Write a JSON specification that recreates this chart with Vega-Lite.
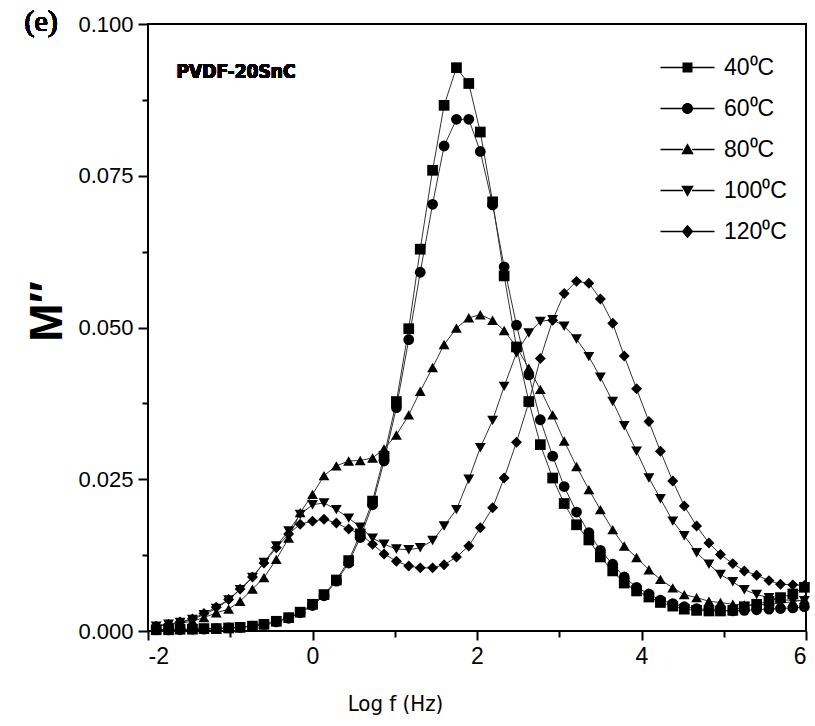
{
  "$schema": "https://vega.github.io/schema/vega-lite/v6.json",
  "width": 658,
  "height": 607,
  "autosize": "none",
  "padding": {"left": 148, "top": 24, "right": 9, "bottom": 95},
  "background": "white",
  "config": {"view": {"stroke": "black", "strokeWidth": 2}, "font": "Liberation Sans"},
  "datasets": {
    "d": [
      {"T":"40⁰C","f":-1.90,"m":0.0002},{"T":"40⁰C","f":-1.75,"m":0.0002},{"T":"40⁰C","f":-1.61,"m":0.0003},{"T":"40⁰C","f":-1.46,"m":0.0003},{"T":"40⁰C","f":-1.32,"m":0.0004},{"T":"40⁰C","f":-1.17,"m":0.0004},{"T":"40⁰C","f":-1.02,"m":0.0005},{"T":"40⁰C","f":-0.88,"m":0.0006},{"T":"40⁰C","f":-0.73,"m":0.0008},{"T":"40⁰C","f":-0.59,"m":0.0011},{"T":"40⁰C","f":-0.44,"m":0.0016},{"T":"40⁰C","f":-0.29,"m":0.0022},{"T":"40⁰C","f":-0.15,"m":0.0031},{"T":"40⁰C","f":0.00,"m":0.0044},{"T":"40⁰C","f":0.14,"m":0.0060},{"T":"40⁰C","f":0.29,"m":0.0084},{"T":"40⁰C","f":0.44,"m":0.0116},{"T":"40⁰C","f":0.58,"m":0.0160},{"T":"40⁰C","f":0.73,"m":0.0214},{"T":"40⁰C","f":0.87,"m":0.0288},{"T":"40⁰C","f":1.02,"m":0.0378},{"T":"40⁰C","f":1.17,"m":0.0498},{"T":"40⁰C","f":1.31,"m":0.0629},{"T":"40⁰C","f":1.46,"m":0.0759},{"T":"40⁰C","f":1.60,"m":0.0866},{"T":"40⁰C","f":1.75,"m":0.0928},{"T":"40⁰C","f":1.90,"m":0.0902},{"T":"40⁰C","f":2.04,"m":0.0822},{"T":"40⁰C","f":2.19,"m":0.0707},{"T":"40⁰C","f":2.33,"m":0.0585},{"T":"40⁰C","f":2.48,"m":0.0468},{"T":"40⁰C","f":2.63,"m":0.0378},{"T":"40⁰C","f":2.77,"m":0.0307},{"T":"40⁰C","f":2.92,"m":0.0252},{"T":"40⁰C","f":3.06,"m":0.0210},{"T":"40⁰C","f":3.21,"m":0.0175},{"T":"40⁰C","f":3.36,"m":0.0150},{"T":"40⁰C","f":3.50,"m":0.0122},{"T":"40⁰C","f":3.65,"m":0.0099},{"T":"40⁰C","f":3.79,"m":0.0079},{"T":"40⁰C","f":3.94,"m":0.0066},{"T":"40⁰C","f":4.09,"m":0.0056},{"T":"40⁰C","f":4.23,"m":0.0047},{"T":"40⁰C","f":4.38,"m":0.0041},{"T":"40⁰C","f":4.52,"m":0.0036},{"T":"40⁰C","f":4.67,"m":0.0034},{"T":"40⁰C","f":4.82,"m":0.0033},{"T":"40⁰C","f":4.96,"m":0.0033},{"T":"40⁰C","f":5.11,"m":0.0034},{"T":"40⁰C","f":5.25,"m":0.0040},{"T":"40⁰C","f":5.40,"m":0.0044},{"T":"40⁰C","f":5.55,"m":0.0049},{"T":"40⁰C","f":5.69,"m":0.0055},{"T":"40⁰C","f":5.84,"m":0.0061},{"T":"40⁰C","f":5.98,"m":0.0072},
      {"T":"60⁰C","f":-1.90,"m":0.0002},{"T":"60⁰C","f":-1.75,"m":0.0002},{"T":"60⁰C","f":-1.61,"m":0.0002},{"T":"60⁰C","f":-1.46,"m":0.0003},{"T":"60⁰C","f":-1.32,"m":0.0003},{"T":"60⁰C","f":-1.17,"m":0.0004},{"T":"60⁰C","f":-1.02,"m":0.0005},{"T":"60⁰C","f":-0.88,"m":0.0006},{"T":"60⁰C","f":-0.73,"m":0.0008},{"T":"60⁰C","f":-0.59,"m":0.0011},{"T":"60⁰C","f":-0.44,"m":0.0015},{"T":"60⁰C","f":-0.29,"m":0.0021},{"T":"60⁰C","f":-0.15,"m":0.0030},{"T":"60⁰C","f":0.00,"m":0.0042},{"T":"60⁰C","f":0.14,"m":0.0058},{"T":"60⁰C","f":0.29,"m":0.0082},{"T":"60⁰C","f":0.44,"m":0.0112},{"T":"60⁰C","f":0.58,"m":0.0154},{"T":"60⁰C","f":0.73,"m":0.0208},{"T":"60⁰C","f":0.87,"m":0.0280},{"T":"60⁰C","f":1.02,"m":0.0368},{"T":"60⁰C","f":1.17,"m":0.0480},{"T":"60⁰C","f":1.31,"m":0.0591},{"T":"60⁰C","f":1.46,"m":0.0703},{"T":"60⁰C","f":1.60,"m":0.0799},{"T":"60⁰C","f":1.75,"m":0.0843},{"T":"60⁰C","f":1.90,"m":0.0843},{"T":"60⁰C","f":2.04,"m":0.0790},{"T":"60⁰C","f":2.19,"m":0.0702},{"T":"60⁰C","f":2.33,"m":0.0600},{"T":"60⁰C","f":2.48,"m":0.0504},{"T":"60⁰C","f":2.63,"m":0.0422},{"T":"60⁰C","f":2.77,"m":0.0348},{"T":"60⁰C","f":2.92,"m":0.0288},{"T":"60⁰C","f":3.06,"m":0.0238},{"T":"60⁰C","f":3.21,"m":0.0196},{"T":"60⁰C","f":3.36,"m":0.0162},{"T":"60⁰C","f":3.50,"m":0.0133},{"T":"60⁰C","f":3.65,"m":0.0110},{"T":"60⁰C","f":3.79,"m":0.0089},{"T":"60⁰C","f":3.94,"m":0.0072},{"T":"60⁰C","f":4.09,"m":0.0061},{"T":"60⁰C","f":4.23,"m":0.0051},{"T":"60⁰C","f":4.38,"m":0.0045},{"T":"60⁰C","f":4.52,"m":0.0040},{"T":"60⁰C","f":4.67,"m":0.0037},{"T":"60⁰C","f":4.82,"m":0.0035},{"T":"60⁰C","f":4.96,"m":0.0034},{"T":"60⁰C","f":5.11,"m":0.0033},{"T":"60⁰C","f":5.25,"m":0.0034},{"T":"60⁰C","f":5.40,"m":0.0035},{"T":"60⁰C","f":5.55,"m":0.0036},{"T":"60⁰C","f":5.69,"m":0.0037},{"T":"60⁰C","f":5.84,"m":0.0038},{"T":"60⁰C","f":5.98,"m":0.0040},
      {"T":"80⁰C","f":-1.90,"m":0.0009},{"T":"80⁰C","f":-1.75,"m":0.0011},{"T":"80⁰C","f":-1.61,"m":0.0013},{"T":"80⁰C","f":-1.46,"m":0.0016},{"T":"80⁰C","f":-1.32,"m":0.0022},{"T":"80⁰C","f":-1.17,"m":0.0030},{"T":"80⁰C","f":-1.02,"m":0.0036},{"T":"80⁰C","f":-0.88,"m":0.0049},{"T":"80⁰C","f":-0.73,"m":0.0069},{"T":"80⁰C","f":-0.59,"m":0.0088},{"T":"80⁰C","f":-0.44,"m":0.0118},{"T":"80⁰C","f":-0.29,"m":0.0153},{"T":"80⁰C","f":-0.15,"m":0.0195},{"T":"80⁰C","f":0.00,"m":0.0225},{"T":"80⁰C","f":0.14,"m":0.0256},{"T":"80⁰C","f":0.29,"m":0.0272},{"T":"80⁰C","f":0.44,"m":0.0280},{"T":"80⁰C","f":0.58,"m":0.0281},{"T":"80⁰C","f":0.73,"m":0.0285},{"T":"80⁰C","f":0.87,"m":0.0300},{"T":"80⁰C","f":1.02,"m":0.0323},{"T":"80⁰C","f":1.17,"m":0.0356},{"T":"80⁰C","f":1.31,"m":0.0395},{"T":"80⁰C","f":1.46,"m":0.0434},{"T":"80⁰C","f":1.60,"m":0.0472},{"T":"80⁰C","f":1.75,"m":0.0499},{"T":"80⁰C","f":1.90,"m":0.0516},{"T":"80⁰C","f":2.04,"m":0.0521},{"T":"80⁰C","f":2.19,"m":0.0512},{"T":"80⁰C","f":2.33,"m":0.0495},{"T":"80⁰C","f":2.48,"m":0.0468},{"T":"80⁰C","f":2.63,"m":0.0433},{"T":"80⁰C","f":2.77,"m":0.0398},{"T":"80⁰C","f":2.92,"m":0.0356},{"T":"80⁰C","f":3.06,"m":0.0313},{"T":"80⁰C","f":3.21,"m":0.0271},{"T":"80⁰C","f":3.36,"m":0.0233},{"T":"80⁰C","f":3.50,"m":0.0200},{"T":"80⁰C","f":3.65,"m":0.0167},{"T":"80⁰C","f":3.79,"m":0.0140},{"T":"80⁰C","f":3.94,"m":0.0121},{"T":"80⁰C","f":4.09,"m":0.0101},{"T":"80⁰C","f":4.23,"m":0.0085},{"T":"80⁰C","f":4.38,"m":0.0071},{"T":"80⁰C","f":4.52,"m":0.0060},{"T":"80⁰C","f":4.67,"m":0.0055},{"T":"80⁰C","f":4.82,"m":0.0049},{"T":"80⁰C","f":4.96,"m":0.0047},{"T":"80⁰C","f":5.11,"m":0.0044},{"T":"80⁰C","f":5.25,"m":0.0043},{"T":"80⁰C","f":5.40,"m":0.0043},{"T":"80⁰C","f":5.55,"m":0.0044},{"T":"80⁰C","f":5.69,"m":0.0046},{"T":"80⁰C","f":5.84,"m":0.0048},{"T":"80⁰C","f":5.98,"m":0.0052},
      {"T":"100⁰C","f":-1.90,"m":0.0008},{"T":"100⁰C","f":-1.75,"m":0.0011},{"T":"100⁰C","f":-1.61,"m":0.0014},{"T":"100⁰C","f":-1.46,"m":0.0019},{"T":"100⁰C","f":-1.32,"m":0.0027},{"T":"100⁰C","f":-1.17,"m":0.0037},{"T":"100⁰C","f":-1.02,"m":0.0051},{"T":"100⁰C","f":-0.88,"m":0.0068},{"T":"100⁰C","f":-0.73,"m":0.0088},{"T":"100⁰C","f":-0.59,"m":0.0113},{"T":"100⁰C","f":-0.44,"m":0.0140},{"T":"100⁰C","f":-0.29,"m":0.0165},{"T":"100⁰C","f":-0.15,"m":0.0192},{"T":"100⁰C","f":0.00,"m":0.0208},{"T":"100⁰C","f":0.14,"m":0.0211},{"T":"100⁰C","f":0.29,"m":0.0200},{"T":"100⁰C","f":0.44,"m":0.0186},{"T":"100⁰C","f":0.58,"m":0.0171},{"T":"100⁰C","f":0.73,"m":0.0153},{"T":"100⁰C","f":0.87,"m":0.0143},{"T":"100⁰C","f":1.02,"m":0.0135},{"T":"100⁰C","f":1.17,"m":0.0134},{"T":"100⁰C","f":1.31,"m":0.0137},{"T":"100⁰C","f":1.46,"m":0.0149},{"T":"100⁰C","f":1.60,"m":0.0173},{"T":"100⁰C","f":1.75,"m":0.0200},{"T":"100⁰C","f":1.90,"m":0.0250},{"T":"100⁰C","f":2.04,"m":0.0302},{"T":"100⁰C","f":2.19,"m":0.0347},{"T":"100⁰C","f":2.33,"m":0.0403},{"T":"100⁰C","f":2.48,"m":0.0458},{"T":"100⁰C","f":2.63,"m":0.0491},{"T":"100⁰C","f":2.77,"m":0.0510},{"T":"100⁰C","f":2.92,"m":0.0513},{"T":"100⁰C","f":3.06,"m":0.0502},{"T":"100⁰C","f":3.21,"m":0.0481},{"T":"100⁰C","f":3.36,"m":0.0452},{"T":"100⁰C","f":3.50,"m":0.0418},{"T":"100⁰C","f":3.65,"m":0.0378},{"T":"100⁰C","f":3.79,"m":0.0338},{"T":"100⁰C","f":3.94,"m":0.0296},{"T":"100⁰C","f":4.09,"m":0.0252},{"T":"100⁰C","f":4.23,"m":0.0218},{"T":"100⁰C","f":4.38,"m":0.0181},{"T":"100⁰C","f":4.52,"m":0.0157},{"T":"100⁰C","f":4.67,"m":0.0129},{"T":"100⁰C","f":4.82,"m":0.0110},{"T":"100⁰C","f":4.96,"m":0.0093},{"T":"100⁰C","f":5.11,"m":0.0081},{"T":"100⁰C","f":5.25,"m":0.0068},{"T":"100⁰C","f":5.40,"m":0.0060},{"T":"100⁰C","f":5.55,"m":0.0055},{"T":"100⁰C","f":5.69,"m":0.0052},{"T":"100⁰C","f":5.84,"m":0.0050},{"T":"100⁰C","f":5.98,"m":0.0050},
      {"T":"120⁰C","f":-1.90,"m":0.0008},{"T":"120⁰C","f":-1.75,"m":0.0011},{"T":"120⁰C","f":-1.61,"m":0.0015},{"T":"120⁰C","f":-1.46,"m":0.0020},{"T":"120⁰C","f":-1.32,"m":0.0029},{"T":"120⁰C","f":-1.17,"m":0.0039},{"T":"120⁰C","f":-1.02,"m":0.0052},{"T":"120⁰C","f":-0.88,"m":0.0069},{"T":"120⁰C","f":-0.73,"m":0.0089},{"T":"120⁰C","f":-0.59,"m":0.0112},{"T":"120⁰C","f":-0.44,"m":0.0137},{"T":"120⁰C","f":-0.29,"m":0.0160},{"T":"120⁰C","f":-0.15,"m":0.0176},{"T":"120⁰C","f":0.00,"m":0.0181},{"T":"120⁰C","f":0.14,"m":0.0184},{"T":"120⁰C","f":0.29,"m":0.0178},{"T":"120⁰C","f":0.44,"m":0.0168},{"T":"120⁰C","f":0.58,"m":0.0160},{"T":"120⁰C","f":0.73,"m":0.0143},{"T":"120⁰C","f":0.87,"m":0.0127},{"T":"120⁰C","f":1.02,"m":0.0115},{"T":"120⁰C","f":1.17,"m":0.0107},{"T":"120⁰C","f":1.31,"m":0.0104},{"T":"120⁰C","f":1.46,"m":0.0104},{"T":"120⁰C","f":1.60,"m":0.0109},{"T":"120⁰C","f":1.75,"m":0.0122},{"T":"120⁰C","f":1.90,"m":0.0140},{"T":"120⁰C","f":2.04,"m":0.0170},{"T":"120⁰C","f":2.19,"m":0.0203},{"T":"120⁰C","f":2.33,"m":0.0252},{"T":"120⁰C","f":2.48,"m":0.0311},{"T":"120⁰C","f":2.63,"m":0.0377},{"T":"120⁰C","f":2.77,"m":0.0449},{"T":"120⁰C","f":2.92,"m":0.0512},{"T":"120⁰C","f":3.06,"m":0.0556},{"T":"120⁰C","f":3.21,"m":0.0576},{"T":"120⁰C","f":3.36,"m":0.0573},{"T":"120⁰C","f":3.50,"m":0.0547},{"T":"120⁰C","f":3.65,"m":0.0507},{"T":"120⁰C","f":3.79,"m":0.0453},{"T":"120⁰C","f":3.94,"m":0.0399},{"T":"120⁰C","f":4.09,"m":0.0345},{"T":"120⁰C","f":4.23,"m":0.0296},{"T":"120⁰C","f":4.38,"m":0.0247},{"T":"120⁰C","f":4.52,"m":0.0206},{"T":"120⁰C","f":4.67,"m":0.0173},{"T":"120⁰C","f":4.82,"m":0.0145},{"T":"120⁰C","f":4.96,"m":0.0126},{"T":"120⁰C","f":5.11,"m":0.0111},{"T":"120⁰C","f":5.25,"m":0.0099},{"T":"120⁰C","f":5.40,"m":0.0092},{"T":"120⁰C","f":5.55,"m":0.0083},{"T":"120⁰C","f":5.69,"m":0.0077},{"T":"120⁰C","f":5.84,"m":0.0076},{"T":"120⁰C","f":5.98,"m":0.0075}
    ]
  },
  "data": {"name": "d"},
  "layer": [
    {
      "mark": {"type": "line", "color": "#333333", "strokeWidth": 1},
      "encoding": {
        "x": {"field": "f", "type": "quantitative", "scale": {"domain": [-2, 6], "nice": false, "zero": false},
          "axis": {"orient": "bottom", "values": [-2, 0, 2, 4, 6], "labelExpr": "'' + datum.value", "grid": false, "domain": false,
            "tickSize": 9, "tickWidth": 2, "tickColor": "black", "labelFontSize": 23, "labelColor": "black", "labelPadding": 5,
            "title": "Log f (Hz)", "titleFont": "DejaVu Sans Condensed, Liberation Sans", "titleFontSize": 22, "titleFontWeight": "normal", "titleColor": "black",
            "titleX": 247, "titleY": 72, "titleBaseline": "middle", "titleAlign": "center"}},
        "y": {"field": "m", "type": "quantitative", "scale": {"domain": [0, 0.1], "nice": false, "zero": false},
          "axis": {"orient": "left", "values": [0, 0.025, 0.05, 0.075, 0.1], "format": ".3f", "grid": false, "domain": false,
            "tickSize": 10, "tickWidth": 2, "tickColor": "black", "labelFontSize": 22, "labelColor": "black", "labelPadding": 5,
            "title": "M″", "titleFontSize": 46, "titleFontWeight": "bold", "titleColor": "black",
            "titleX": -101, "titleY": 287, "titleAngle": -90, "titleBaseline": "middle", "titleAlign": "center"}},
        "detail": {"field": "T", "type": "nominal"}
      }
    },
    {
      "mark": {"type": "point", "filled": true, "color": "black", "opacity": 1, "strokeWidth": 0},
      "encoding": {
        "x": {"field": "f", "type": "quantitative",
          "axis": {"orient": "bottom", "values": [-1, 1, 3, 5], "labels": false, "grid": false, "domain": false, "tickSize": 6, "tickWidth": 2, "tickColor": "black", "title": null}},
        "y": {"field": "m", "type": "quantitative",
          "axis": {"orient": "left", "values": [0.0125, 0.0375, 0.0625, 0.0875], "labels": false, "grid": false, "domain": false, "tickSize": 6, "tickWidth": 2, "tickColor": "black", "title": null}},
        "shape": {"field": "T", "type": "nominal",
          "scale": {"domain": ["40⁰C", "60⁰C", "80⁰C", "100⁰C", "120⁰C"], "range": ["square", "circle", "triangle-up", "triangle-down", "diamond"]},
          "legend": null},
        "size": {"field": "T", "type": "ordinal",
          "scale": {"domain": ["40⁰C", "60⁰C", "80⁰C", "100⁰C", "120⁰C"], "range": [115, 120, 170, 170, 170]},
          "legend": null}
      }
    },
    {
      "mark": {"type": "point", "filled": true, "fill": "black", "opacity": 0},
      "encoding": {
        "x": {"field": "f", "type": "quantitative", "axis": null},
        "y": {"field": "m", "type": "quantitative", "axis": null},
        "shape": {"field": "T", "type": "nominal",
          "scale": {"domain": ["40⁰C", "60⁰C", "80⁰C", "100⁰C", "120⁰C"],
            "range": [
              "M-5.4,-0.15H-0.9V0.15H-5.4ZM0.9,-0.15H5.4V0.15H0.9ZM-1,-1H1V1H-1Z",
              "M-5.4,-0.15H-0.9V0.15H-5.4ZM0.9,-0.15H5.4V0.15H0.9ZM-1.1,0A1.1,1.1,0,1,1,1.1,0A1.1,1.1,0,1,1,-1.1,0Z",
              "M-5.4,-0.15H-0.9V0.15H-5.4ZM0.9,-0.15H5.4V0.15H0.9ZM0,-1.25L1.25,0.95L-1.25,0.95Z",
              "M-5.4,-0.15H-0.9V0.15H-5.4ZM0.9,-0.15H5.4V0.15H0.9ZM0,1.25L-1.25,-0.95L1.25,-0.95Z",
              "M-5.4,-0.15H-0.9V0.15H-5.4ZM0.9,-0.15H5.4V0.15H0.9ZM0,-1.35L1.15,0L0,1.35L-1.15,0Z"
            ]},
          "legend": {"orient": "none", "legendX": 528, "legendY": 32, "title": null, "symbolSize": 100, "symbolOpacity": 1,
            "symbolFillColor": "black", "symbolStrokeWidth": 0,
            "labelFontSize": 23, "labelColor": "black", "labelOffset": 25, "rowPadding": 17, "padding": 0}
        }
      }
    },
    {
      "mark": {"type": "text", "font": "DejaVu Sans Condensed, Liberation Sans", "fontSize": 19, "fontWeight": "bold", "color": "black", "align": "center", "baseline": "middle"},
      "encoding": {
        "x": {"datum": -0.93, "type": "quantitative", "axis": null},
        "y": {"datum": 0.0921, "type": "quantitative", "axis": null},
        "text": {"value": "PVDF-20SnC"}
      }
    },
    {
      "mark": {"type": "text", "fontSize": 30, "font": "Liberation Serif", "fontWeight": "normal", "color": "black", "align": "center", "baseline": "middle"},
      "encoding": {
        "x": {"datum": -3.30, "type": "quantitative", "axis": null},
        "y": {"datum": 0.1003, "type": "quantitative", "axis": null},
        "text": {"value": "(e)"}
      }
    }
  ],
  "resolve": {
    "scale": {"shape": "independent", "size": "independent"},
    "axis": {"x": "independent", "y": "independent"},
    "legend": {"shape": "independent"}
  }
}
